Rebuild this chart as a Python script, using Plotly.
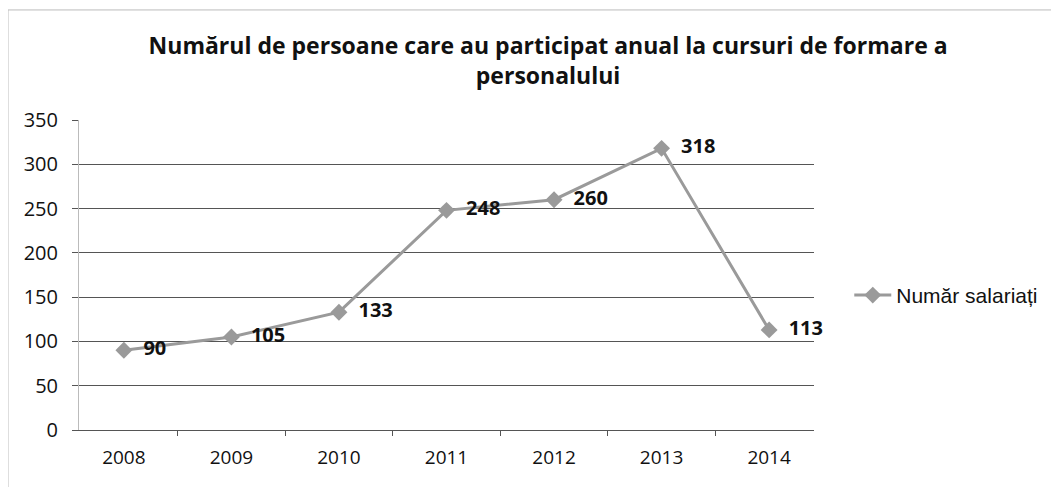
import plotly.graph_objects as go

years = ['2008', '2009', '2010', '2011', '2012', '2013', '2014']
salariati = [90, 105, 133, 248, 260, 318, 113]
y_ticks = [0, 50, 100, 150, 200, 250, 300, 350]

fig = go.Figure()
fig.add_trace(go.Scatter(
    x=years, y=salariati, name='Număr salariați',
    mode='lines+markers+text',
    line=dict(color='#9a9a9a', width=3),
    marker=dict(symbol='diamond', size=13, color='#9a9a9a'),
    text=['  ' + str(v) for v in salariati],
    textposition='middle right',
    textfont=dict(family='Open Sans', size=20, color='#111111', weight='bold'),
    cliponaxis=False,
))

fig.update_layout(
    width=1059, height=487,
    paper_bgcolor='white', plot_bgcolor='white',
    margin=dict(l=71, r=253, t=112, b=65),
    title=dict(text='<b>Numărul de persoane care au participat anual la cursuri de formare a<br>personalului</b>',
               x=0.51, xanchor='center', y=0.905, yanchor='top',
               font=dict(family='Open Sans', size=23, color='#111111')),
    showlegend=True,
    legend=dict(x=1.048, y=0.434, xanchor='left', yanchor='middle', itemwidth=37,
                font=dict(family='Liberation Sans', size=21, color='#111111')),
    font=dict(family='Open Sans', size=19, color='#111111'),
    shapes=[dict(type='rect', xref='paper', yref='paper', x0=-0.0966, x1=1.33, y0=-0.35, y1=1.355,
                 line=dict(color='#bbbbbb', width=1))],
)
fig.update_xaxes(type='category', showgrid=False, showline=True, linecolor='#555555',
                 ticks='outside', ticklen=5, tickcolor='#555555', tickson='boundaries',
                 ticklabelstandoff=10,
                 tickfont=dict(family='Open Sans', size=19), automargin=False)
fig.update_yaxes(range=[0, 350], tickvals=y_ticks, showgrid=True, gridcolor='#555555', gridwidth=1,
                 zeroline=False, showline=True, linecolor='#bbbbbb',
                 ticks='outside', ticklen=6, tickcolor='#555555', ticklabelstandoff=10,
                 tickfont=dict(family='Open Sans', size=20), automargin=False)

fig.write_html("out.html")
